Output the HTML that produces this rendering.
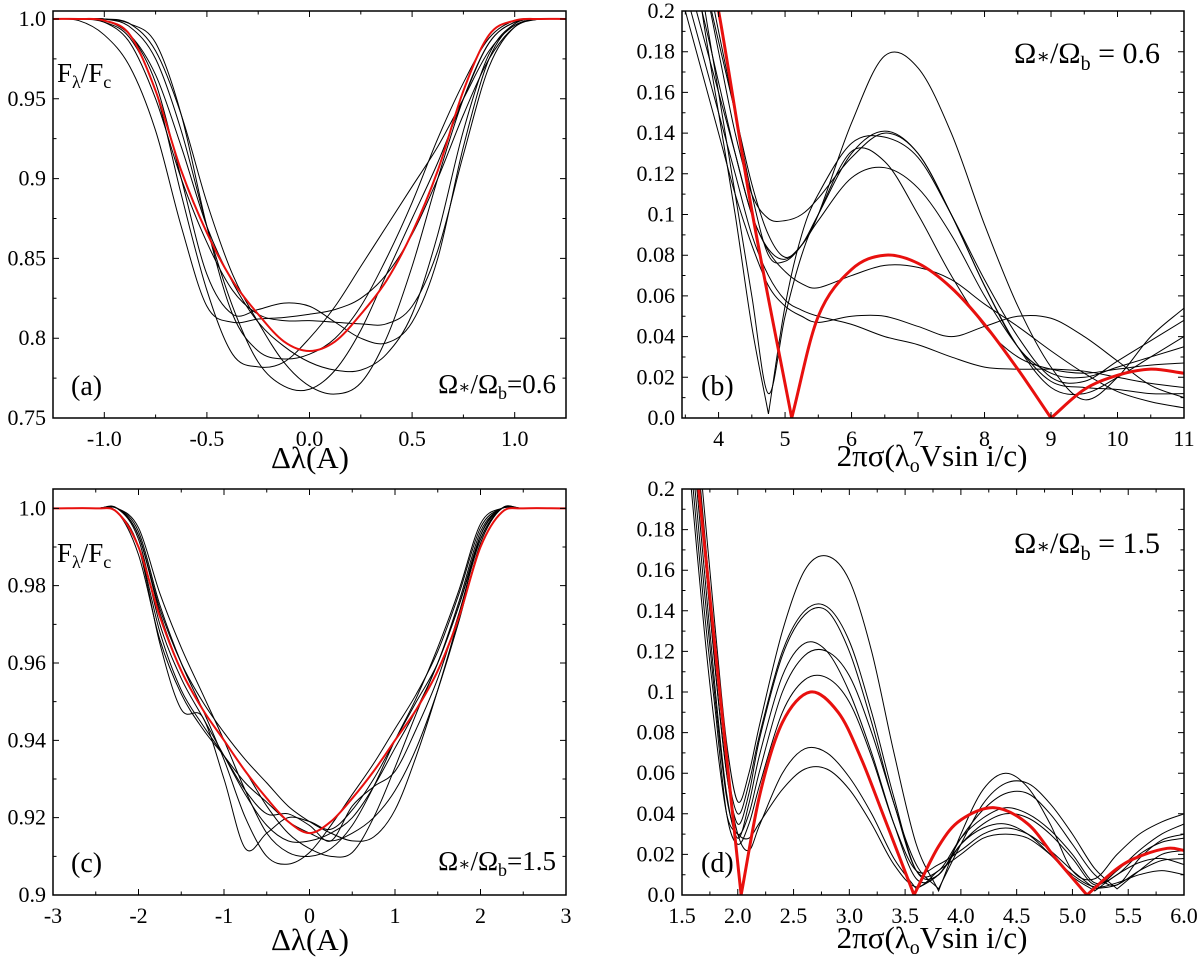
<!DOCTYPE html>
<html><head><meta charset="utf-8">
<style>
html,body{margin:0;padding:0;background:#fff;}
svg{display:block;}
svg text{font-family:"Liberation Serif","Times New Roman",Times,"DejaVu Serif",serif;fill:#000;}
</style></head>
<body>
<svg id="fig" width="1200" height="960" viewBox="0 0 1200 960" xmlns="http://www.w3.org/2000/svg">
  <g>
  <text x="310" y="468" text-anchor="middle" font-size="31">Δλ(A)</text>
  <text x="310" y="950" text-anchor="middle" font-size="31">Δλ(A)</text>
  <text x="932" y="466" text-anchor="middle" font-size="31">2πσ(λ<tspan font-size="20" dy="6">o</tspan><tspan dy="-6">Vsin i/c)</tspan></text>
  <text x="932" y="948" text-anchor="middle" font-size="31">2πσ(λ<tspan font-size="20" dy="6">o</tspan><tspan dy="-6">Vsin i/c)</tspan></text>
  <text x="57" y="82" font-size="27">F<tspan font-size="18" dy="6">λ</tspan><tspan dy="-6">/F</tspan><tspan font-size="18" dy="6">c</tspan></text>
  <text x="57" y="562" font-size="27">F<tspan font-size="18" dy="6">λ</tspan><tspan dy="-6">/F</tspan><tspan font-size="18" dy="6">c</tspan></text>
  <text x="71" y="395" font-size="28">(a)</text>
  <text x="701" y="395" font-size="28">(b)</text>
  <text x="71" y="872" font-size="28">(c)</text>
  <text x="701" y="872" font-size="28">(d)</text>
  <text x="556" y="393" text-anchor="end" font-size="27">Ω<tspan font-size="18">∗</tspan>/Ω<tspan font-size="18" dy="6">b</tspan><tspan dy="-6">=0.6</tspan></text>
  <text x="556" y="870" text-anchor="end" font-size="27">Ω<tspan font-size="18">∗</tspan>/Ω<tspan font-size="18" dy="6">b</tspan><tspan dy="-6">=1.5</tspan></text>
  <text x="1160" y="63" text-anchor="end" font-size="30">Ω<tspan font-size="20">∗</tspan>/Ω<tspan font-size="20" dy="7">b</tspan><tspan dy="-7"> = 0.6</tspan></text>
  <text x="1160" y="553" text-anchor="end" font-size="30">Ω<tspan font-size="20">∗</tspan>/Ω<tspan font-size="20" dy="7">b</tspan><tspan dy="-7"> = 1.5</tspan></text>
  </g>
</svg>
<script>
// ---------- Panel (a) data ----------
const aX = [-1.25,-1.125,-1,-0.875,-0.75,-0.625,-0.5,-0.375,-0.25,-0.125,0,0.125,0.25,0.375,0.5,0.625,0.75,0.875,1,1.125,1.25];
const aRed = [1,1,0.999,0.99,0.955,0.905,0.866,0.836,0.815,0.798,0.792,0.798,0.815,0.836,0.866,0.905,0.955,0.99,0.999,1,1];
const aB1 = [1,0.999,0.99,0.97,0.93,0.87,0.82,0.81,0.812,0.813,0.815,0.818,0.825,0.84,0.865,0.9,0.94,0.975,0.995,1,1];
const aB2 = [1,1,0.998,0.985,0.95,0.9,0.86,0.83,0.815,0.811,0.811,0.81,0.809,0.809,0.82,0.855,0.915,0.97,0.995,1,1];
const aB3 = [1,1,0.999,0.99,0.96,0.9,0.84,0.815,0.818,0.822,0.82,0.81,0.8,0.797,0.81,0.85,0.92,0.975,0.997,1,1];
const aB4 = [1,1,0.998,0.988,0.955,0.89,0.83,0.79,0.782,0.785,0.8,0.82,0.845,0.87,0.895,0.92,0.95,0.98,0.996,1,1];
const aB5 = [1,1,1,0.995,0.975,0.93,0.87,0.82,0.785,0.77,0.768,0.78,0.805,0.84,0.875,0.91,0.95,0.985,0.998,1,1];
const aB6 = [1,1,1,0.997,0.98,0.94,0.885,0.84,0.81,0.785,0.77,0.765,0.772,0.8,0.845,0.9,0.95,0.985,0.998,1,1];
const aB7 = [1,1,0.999,0.99,0.965,0.92,0.87,0.835,0.81,0.795,0.785,0.78,0.78,0.79,0.815,0.865,0.93,0.978,0.997,1,1];
const aB8 = [1,1,1,0.997,0.985,0.94,0.87,0.815,0.792,0.787,0.79,0.8,0.82,0.85,0.885,0.925,0.96,0.988,0.999,1,1];
const aYTicks = ["1.0","0.95","0.9","0.85","0.8","0.75"];
const aXTicks = ["-1.0","-0.5","0.0","0.5","1.0"];

// ---------- Panel (b) data ----------
const bRedX = [3.8,4.0,4.5,5.1,5.5,6.0,6.5,7.0,7.5,8.0,8.5,9.0,9.5,10.0,10.5,11.0];
const bRed = [0.225,0.2,0.102,0,0.05,0.073,0.08,0.076,0.064,0.046,0.024,0,0.014,0.021,0.024,0.022];
const bX = [3.5,3.75,4,4.25,4.5,4.75,5,5.25,5.5,6,6.5,7,7.5,8,8.5,9,9.5,10,10.5,11];
const bB1 = [0.23,0.2,0.165,0.13,0.1,0.083,0.078,0.085,0.1,0.145,0.178,0.172,0.14,0.095,0.055,0.025,0.009,0.02,0.04,0.054];
const bB2 = [0.25,0.22,0.18,0.14,0.11,0.098,0.097,0.1,0.108,0.128,0.14,0.13,0.1,0.065,0.035,0.022,0.02,0.025,0.03,0.035];
const bB3 = [0.26,0.23,0.19,0.15,0.11,0.08,0.077,0.085,0.1,0.13,0.141,0.13,0.1,0.065,0.035,0.015,0.012,0.02,0.03,0.04];
const bB4 = [0.27,0.21,0.16,0.11,0.06,0.012,0.05,0.08,0.1,0.131,0.126,0.1,0.07,0.045,0.03,0.024,0.022,0.024,0.026,0.027];
const bB5 = [0.25,0.22,0.185,0.15,0.115,0.09,0.079,0.085,0.097,0.118,0.123,0.113,0.09,0.06,0.035,0.018,0.015,0.014,0.012,0.012];
const bB6 = [0.22,0.19,0.16,0.13,0.1,0.082,0.072,0.066,0.064,0.07,0.075,0.074,0.068,0.056,0.045,0.033,0.022,0.013,0.008,0.005];
const bB7 = [0.2,0.17,0.14,0.11,0.085,0.065,0.055,0.05,0.047,0.05,0.05,0.045,0.04,0.045,0.05,0.049,0.04,0.028,0.016,0.01];
const bB8 = [0.21,0.18,0.15,0.12,0.09,0.07,0.058,0.053,0.05,0.046,0.04,0.036,0.03,0.025,0.024,0.024,0.023,0.02,0.017,0.015];
const bB9 = [0.26,0.2,0.15,0.1,0.045,0.002,0.055,0.09,0.11,0.135,0.138,0.128,0.1,0.068,0.04,0.02,0.018,0.028,0.038,0.048];
const bYTicks = ["0.0","0.02","0.04","0.06","0.08","0.1","0.12","0.14","0.16","0.18","0.2"];
const bXTicks = ["4","5","6","7","8","9","10","11"];

// ---------- Panel (c) data ----------
const cX = [-3,-2.5,-2.25,-2,-1.75,-1.5,-1.25,-1,-0.75,-0.5,-0.25,0,0.25,0.5,0.75,1,1.25,1.5,1.75,2,2.25,2.5,3];
const cRed = [1,1,0.999,0.99,0.972,0.958,0.948,0.94,0.932,0.925,0.919,0.916,0.919,0.925,0.932,0.94,0.948,0.958,0.972,0.99,0.999,1,1];
const cB1 = [1,1,0.999,0.99,0.965,0.948,0.946,0.93,0.912,0.916,0.92,0.919,0.917,0.922,0.93,0.94,0.95,0.96,0.975,0.992,1,1,1];
const cB2 = [1,1,1,0.994,0.975,0.96,0.948,0.935,0.92,0.91,0.908,0.911,0.918,0.926,0.934,0.943,0.952,0.963,0.978,0.995,1,1,1];
const cB3 = [1,1,1,0.993,0.973,0.958,0.948,0.94,0.932,0.923,0.916,0.912,0.91,0.911,0.92,0.933,0.947,0.96,0.975,0.993,1,1,1];
const cB4 = [1,1,0.999,0.99,0.968,0.953,0.944,0.936,0.927,0.921,0.921,0.918,0.914,0.923,0.928,0.932,0.943,0.956,0.973,0.992,1,1,1];
const cB5 = [1,1,1,0.992,0.97,0.956,0.946,0.936,0.926,0.918,0.914,0.914,0.916,0.92,0.928,0.938,0.948,0.96,0.976,0.994,1,1,1];
const cB6 = [1,1,1,0.995,0.978,0.964,0.952,0.94,0.927,0.916,0.911,0.91,0.912,0.918,0.928,0.94,0.951,0.964,0.979,0.996,1,1,1];
const cB7 = [1,1,0.999,0.988,0.966,0.952,0.943,0.936,0.929,0.924,0.919,0.916,0.914,0.916,0.92,0.927,0.938,0.953,0.971,0.991,1,1,1];
const cB8 = [1,1,1,0.993,0.974,0.96,0.95,0.942,0.935,0.929,0.923,0.919,0.916,0.914,0.915,0.922,0.936,0.953,0.972,0.993,1,1,1];
const cYTicks = ["1.0","0.98","0.96","0.94","0.92","0.9"];
const cXTicks = ["-3","-2","-1","0","1","2","3"];

// ---------- Panel (d) data ----------
const dRedX = [1.62,1.65,1.8,2.03,2.2,2.4,2.65,2.9,3.1,3.3,3.58,3.8,4.0,4.3,4.6,4.85,5.13,5.4,5.6,5.85,6.0];
const dRed = [0.21,0.2,0.12,0,0.05,0.085,0.1,0.09,0.068,0.04,0,0.024,0.037,0.043,0.035,0.018,0,0.013,0.019,0.023,0.022];
const dX = [1.5,1.6,1.7,1.8,1.9,2.0,2.1,2.2,2.4,2.6,2.8,3.0,3.2,3.4,3.6,3.8,4.0,4.2,4.4,4.6,4.8,5.0,5.2,5.4,5.6,5.8,6.0];
const dB1 = [0.3,0.25,0.19,0.13,0.075,0.046,0.06,0.085,0.13,0.16,0.167,0.155,0.12,0.07,0.025,0.002,0.03,0.052,0.06,0.053,0.035,0.012,0.008,0.02,0.03,0.036,0.04];
const dB2 = [0.3,0.24,0.18,0.12,0.065,0.04,0.055,0.08,0.12,0.14,0.142,0.125,0.09,0.048,0.012,0.01,0.028,0.042,0.05,0.05,0.04,0.025,0.01,0.005,0.018,0.027,0.03];
const dB3 = [0.28,0.23,0.17,0.11,0.06,0.035,0.05,0.078,0.118,0.138,0.14,0.12,0.085,0.045,0.015,0.003,0.025,0.045,0.055,0.055,0.045,0.03,0.013,0.003,0.012,0.02,0.022];
const dB4 = [0.28,0.22,0.16,0.1,0.05,0.028,0.045,0.07,0.108,0.124,0.12,0.1,0.07,0.035,0.008,0.01,0.025,0.035,0.04,0.038,0.03,0.018,0.005,0.012,0.022,0.03,0.035];
const dB5 = [0.27,0.21,0.15,0.095,0.048,0.03,0.04,0.062,0.1,0.118,0.12,0.108,0.08,0.045,0.012,0.012,0.028,0.038,0.043,0.04,0.032,0.02,0.006,0.01,0.02,0.026,0.028];
const dB6 = [0.26,0.2,0.14,0.09,0.04,0.025,0.035,0.055,0.09,0.106,0.107,0.095,0.068,0.035,0.012,0.015,0.022,0.03,0.033,0.03,0.022,0.012,0.003,0.005,0.012,0.017,0.018];
const dB7 = [0.3,0.24,0.17,0.11,0.06,0.03,0.022,0.035,0.06,0.072,0.07,0.058,0.04,0.018,0.003,0.01,0.025,0.033,0.035,0.03,0.02,0.009,0.002,0.01,0.016,0.018,0.015];
const dB8 = [0.25,0.19,0.13,0.08,0.04,0.03,0.028,0.036,0.052,0.062,0.062,0.052,0.035,0.015,0.004,0.012,0.02,0.028,0.03,0.028,0.02,0.01,0.004,0.006,0.01,0.012,0.01];
const dYTicks = ["0.0","0.02","0.04","0.06","0.08","0.1","0.12","0.14","0.16","0.18","0.2"];
const dXTicks = ["1.5","2.0","2.5","3.0","3.5","4.0","4.5","5.0","5.5","6.0"];

const NS = "http://www.w3.org/2000/svg";
const svg = document.getElementById('fig');
function mk(tag, parent){ const e = document.createElementNS(NS, tag); parent.appendChild(e); return e; }

function spline(xs, ys, sx, sy, ymin){
  const P = xs.map((x,i)=>[sx(x), sy(ys[i])]);
  const n = P.length;
  const corner = i => i>0 && i<n-1 && ys[i] <= ymin + 0.003 && ys[i] <= ys[i-1] && ys[i] <= ys[i+1];
  let d = "M" + P[0][0].toFixed(2) + "," + P[0][1].toFixed(2);
  for (let i=0;i<n-1;i++){
    const p0 = P[i], p1 = P[i+1];
    let t0, t1;
    if (i===0 || corner(i)) t0 = [p1[0]-p0[0], p1[1]-p0[1]];
    else t0 = [(p1[0]-P[i-1][0])/2, (p1[1]-P[i-1][1])/2];
    if (i+1===n-1 || corner(i+1)) t1 = [p1[0]-p0[0], p1[1]-p0[1]];
    else t1 = [(P[i+2][0]-p0[0])/2, (P[i+2][1]-p0[1])/2];
    const c1 = [p0[0]+t0[0]/3, p0[1]+t0[1]/3], c2 = [p1[0]-t1[0]/3, p1[1]-t1[1]/3];
    d += " C" + c1[0].toFixed(2)+","+c1[1].toFixed(2)+" "+c2[0].toFixed(2)+","+c2[1].toFixed(2)+" "+p1[0].toFixed(2)+","+p1[1].toFixed(2);
  }
  return d;
}

function panel(cfg){
  const g = mk('g', svg);
  
  
  const sx = x => cfg.L + (x - cfg.xmin)/(cfg.xmax - cfg.xmin)*(cfg.R - cfg.L);
  const sy = y => cfg.B - (y - cfg.ymin)/(cfg.ymax - cfg.ymin)*(cfg.B - cfg.T);
  const cp = mk('clipPath', g); cp.setAttribute('id', cfg.name+'-clip');
  const cr = mk('rect', cp); cr.setAttribute('x', cfg.L); cr.setAttribute('y', cfg.T); cr.setAttribute('width', cfg.R-cfg.L); cr.setAttribute('height', cfg.B-cfg.T);
  const lines = mk('g', g); lines.setAttribute('clip-path', 'url(#'+cfg.name+'-clip)');
  
  
  cfg.black.forEach((ys, k) => {
    const p = mk('path', lines);
    p.setAttribute('d', spline(cfg.bx, ys, sx, sy, cfg.ymin));
    p.setAttribute('fill', 'none'); p.setAttribute('stroke', '#000'); p.setAttribute('stroke-width', '1');
    
    
  });
  const r = mk('path', lines);
  r.setAttribute('d', spline(cfg.rx, cfg.ry, sx, sy, cfg.ymin));
  r.setAttribute('fill', 'none'); r.setAttribute('stroke', '#e8100e'); r.setAttribute('stroke-width', cfg.rw);
  
  
  const fr = mk('rect', g);
  fr.setAttribute('x', cfg.L); fr.setAttribute('y', cfg.T); fr.setAttribute('width', cfg.R-cfg.L); fr.setAttribute('height', cfg.B-cfg.T);
  fr.setAttribute('fill','none'); fr.setAttribute('stroke','#000'); fr.setAttribute('stroke-width','1.5');
  
  
  let td = "";
  for (let v = cfg.xmin0; v <= cfg.xmax + 1e-9; v += cfg.xminor){
    const X = sx(v); if (X < cfg.L-0.5 || X > cfg.R+0.5) continue;
    const major = Math.abs(((v - cfg.xmaj0)/cfg.xmajor) - Math.round((v - cfg.xmaj0)/cfg.xmajor)) < 1e-6;
    const len = major ? 6 : 3.5;
    td += `M${X},${cfg.B}v${-len}M${X},${cfg.T}v${len}`;
  }
  for (let v = cfg.ymin; v <= cfg.ymax + 1e-9; v += cfg.yminor){
    const Y = sy(v);
    const major = Math.abs(((v - cfg.ymaj0)/cfg.ymajor) - Math.round((v - cfg.ymaj0)/cfg.ymajor)) < 1e-6;
    const len = major ? 6 : 3.5;
    td += `M${cfg.L},${Y}h${len}M${cfg.R},${Y}h${-len}`;
  }
  const tk = mk('path', g); tk.setAttribute('d', td); tk.setAttribute('stroke','#000'); tk.setAttribute('stroke-width','1');
  
  
  cfg.yt.forEach((lab, i) => {
    const t = mk('text', g);
    t.setAttribute('x', cfg.L - 7); t.setAttribute('y', sy(cfg.ytv[i]) + 7);
    t.setAttribute('text-anchor','end'); t.setAttribute('font-size','22');
    t.textContent = lab;
    
    
  });
  cfg.xt.forEach((lab, i) => {
    const t = mk('text', g);
    t.setAttribute('x', sx(cfg.xtv[i])); t.setAttribute('y', cfg.B + 28);
    t.setAttribute('text-anchor','middle'); t.setAttribute('font-size','22');
    t.textContent = lab;
    
    
  });
}

panel({name:'panel-a', L:53,R:566,T:11,B:418, xmin:-1.25,xmax:1.25,ymin:0.75,ymax:1.005,
  bx:aX, black:[aB1,aB2,aB3,aB4,aB5,aB6,aB7,aB8], rx:aX, ry:aRed, rw:2,
  xmin0:-1.25, xminor:0.25, xmaj0:0, xmajor:0.5, yminor:0.025, ymaj0:0.75, ymajor:0.05,
  yt:aYTicks, ytv:aYTicks.map(Number), xt:aXTicks, xtv:aXTicks.map(Number)});
panel({name:'panel-b', L:682,R:1184,T:11,B:418, xmin:3.45,xmax:11,ymin:0,ymax:0.2,
  bx:bX, black:[bB1,bB2,bB3,bB4,bB5,bB6,bB7,bB8,bB9], rx:bRedX, ry:bRed, rw:3,
  xmin0:3.5, xminor:0.5, xmaj0:4, xmajor:1, yminor:0.01, ymaj0:0, ymajor:0.02,
  yt:bYTicks, ytv:bYTicks.map(Number), xt:bXTicks, xtv:bXTicks.map(Number)});
panel({name:'panel-c', L:53,R:566,T:489,B:895, xmin:-3,xmax:3,ymin:0.9,ymax:1.005,
  bx:cX, black:[cB1,cB2,cB3,cB4,cB5,cB6,cB7,cB8], rx:cX, ry:cRed, rw:2,
  xmin0:-3, xminor:0.5, xmaj0:0, xmajor:1, yminor:0.01, ymaj0:0.9, ymajor:0.02,
  yt:cYTicks, ytv:cYTicks.map(Number), xt:cXTicks, xtv:cXTicks.map(Number)});
panel({name:'panel-d', L:682,R:1184,T:489,B:895, xmin:1.5,xmax:6.0,ymin:0,ymax:0.2,
  bx:dX, black:[dB1,dB2,dB3,dB4,dB5,dB6,dB7,dB8], rx:dRedX, ry:dRed, rw:3,
  xmin0:1.5, xminor:0.25, xmaj0:1.5, xmajor:0.5, yminor:0.01, ymaj0:0, ymajor:0.02,
  yt:dYTicks, ytv:dYTicks.map(Number), xt:dXTicks, xtv:dXTicks.map(Number)});
</script>
</body></html>
